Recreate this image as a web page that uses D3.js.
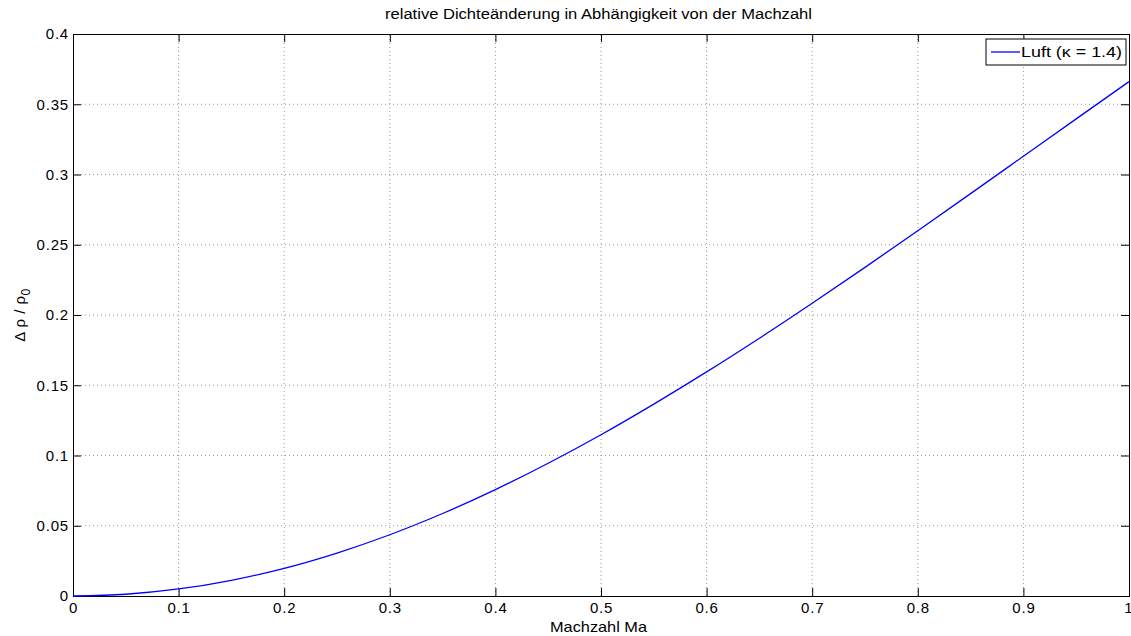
<!DOCTYPE html>
<html>
<head>
<meta charset="utf-8">
<script src="https://cdn.jsdelivr.net/npm/d3@7"></script>
<style>
  body { margin: 0; background: #fff; }
  svg { font-family: "Liberation Sans", Arial, sans-serif; }
</style>
</head>
<body>
<svg id="chart" width="1131" height="636"></svg>
<script>
// values
const machValues = [0, 0.05, 0.1, 0.15, 0.2, 0.25, 0.3, 0.35, 0.4, 0.45, 0.5,
  0.55, 0.6, 0.65, 0.7, 0.75, 0.8, 0.85, 0.9, 0.95, 1.0]
const densityChange = [0, 0.00125, 0.0050, 0.0112, 0.0197, 0.0306, 0.0436, 0.0587, 0.0757, 0.0945, 0.1148,
  0.1366, 0.1595, 0.1835, 0.2084, 0.2339, 0.2600, 0.2864, 0.3130, 0.3396, 0.3661]
const xTicks = [0, 0.1, 0.2, 0.3, 0.4, 0.5, 0.6, 0.7, 0.8, 0.9, 1]
const yTicks = [0, 0.05, 0.1, 0.15, 0.2, 0.25, 0.3, 0.35, 0.4]
const seriesName = "Luft (\u03ba = 1.4)"

const width = 1131, height = 636
const marginL = 73, marginR = 2, marginT = 34, marginB = 40

const svg = d3.select("#chart")
const xScale = d3.scaleLinear().domain([0, 1]).range([marginL, width - marginR])
const yScale = d3.scaleLinear().domain([0, 0.4]).range([height - marginB, marginT])

const fmt = d => d3.format("")(+d.toFixed(2))

// grid
const grid = svg.append("g")
grid.selectAll(".gx").data(xTicks.slice(1, -1)).join("line")
  .attr("x1", d => xScale(d)).attr("x2", d => xScale(d))
  .attr("y1", yScale(0)).attr("y2", yScale(0.4))
  .attr("stroke", "#999").attr("stroke-dasharray", "1,3")
grid.selectAll(".gy").data(yTicks.slice(1, -1)).join("line")
  .attr("y1", d => yScale(d)).attr("y2", d => yScale(d))
  .attr("x1", xScale(0)).attr("x2", xScale(1))
  .attr("stroke", "#999").attr("stroke-dasharray", "1,3")

// axes, ticks pointing inward like matlab
const xAxis = d3.axisBottom(xScale).tickValues(xTicks).tickSize(-8).tickPadding(6).tickFormat(fmt)
const yAxis = d3.axisLeft(yScale).tickValues(yTicks).tickSize(-8).tickPadding(4).tickFormat(fmt)
const xAxisTop = d3.axisTop(xScale).tickValues(xTicks).tickSize(-8).tickFormat("")
const yAxisRight = d3.axisRight(yScale).tickValues(yTicks).tickSize(-8).tickFormat("")

const axes = [
  svg.append("g").attr("transform", `translate(0, ${yScale(0)})`).call(xAxis),
  svg.append("g").attr("transform", `translate(${marginL}, 0)`).call(yAxis),
  svg.append("g").attr("transform", `translate(0, ${marginT})`).call(xAxisTop),
  svg.append("g").attr("transform", `translate(${width - marginR}, 0)`).call(yAxisRight)
]
axes.forEach(a => {
  a.selectAll(".domain").attr("stroke", "#000").attr("stroke-width", 1)
  a.selectAll(".tick line").attr("stroke", "#000")
  a.selectAll(".tick text").attr("fill", "#000")
    .style("font-size", "15px").style("letter-spacing", "0.8px")
})
// last x label sits at the window edge, keep it inside
axes[0].selectAll(".tick text").filter(d => d === 1)
  .attr("text-anchor", "end").attr("x", 3).style("letter-spacing", "0px")

// curve
const line = d3.line()
  .x((d, i) => xScale(machValues[i]))
  .y(d => yScale(d))
  .curve(d3.curveMonotoneX)
svg.append("path")
  .datum(densityChange)
  .attr("d", line)
  .attr("fill", "none")
  .attr("stroke", "#0000ff")
  .attr("stroke-width", 1.3)

// title and labels
svg.append("text")
  .text("relative Dichteänderung in Abhängigkeit von der Machzahl")
  .attr("x", 385).attr("y", 19)
  .attr("textLength", 427).attr("lengthAdjust", "spacingAndGlyphs")
  .style("font-size", "14px")
svg.append("text")
  .text("Machzahl Ma")
  .attr("x", 550).attr("y", 632)
  .attr("textLength", 97).attr("lengthAdjust", "spacingAndGlyphs")
  .style("font-size", "15px")
const yl = svg.append("text")
  .attr("transform", `translate(25, ${(yScale(0) + yScale(0.4)) / 2}) rotate(-90)`)
  .attr("text-anchor", "middle").style("font-size", "15px").style("letter-spacing", "0.5px")
yl.append("tspan").text("\u0394 \u03c1 / \u03c1")
yl.append("tspan").text("0").attr("dy", 5).style("font-size", "12px")

// legend
const lg = svg.append("g").attr("transform", "translate(986, 39)")
lg.append("rect").attr("width", 140).attr("height", 26)
  .attr("fill", "#fff").attr("stroke", "#000")
lg.append("line").attr("x1", 5).attr("x2", 34).attr("y1", 13).attr("y2", 13)
  .attr("stroke", "#0000ff").attr("stroke-width", 1.3)
lg.append("text").text(seriesName).attr("x", 35).attr("y", 18)
  .attr("textLength", 101).attr("lengthAdjust", "spacingAndGlyphs")
  .style("font-size", "15px")
</script>
</body>
</html>
